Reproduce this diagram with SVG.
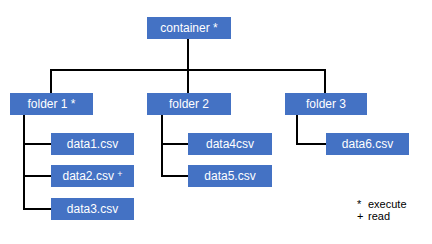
<svg xmlns="http://www.w3.org/2000/svg" width="432" height="244" viewBox="0 0 432 244">
<style>
.box{fill:#4472C4}
.lbl{font-family:"Liberation Sans",Arial,sans-serif;font-size:12px;fill:#ffffff;text-anchor:middle}
.sup{font-size:9px}
.conn{stroke:#000;stroke-width:2;fill:none;stroke-linecap:square}
.leg{font-family:"Liberation Sans",Arial,sans-serif;font-size:11px;fill:#000}
</style>
<rect width="432" height="244" fill="#fff"/>
<g id="connectors">
<path class="conn" d="M188,39V70M51,70H325M51,70V93M188,70V93M325,70V93"/>
<path class="conn" d="M24,115V209H51M24,144H51M24,176H51"/>
<path class="conn" d="M162,115V176H188M162,144H188"/>
<path class="conn" d="M297,115V144H326"/>
</g>
<g id="container"><rect class="box" x="147" y="17" width="84" height="22"/><text class="lbl" x="189" y="32">container *</text></g>
<g id="folder1"><rect class="box" x="10" y="93" width="83" height="22"/><text class="lbl" x="51.5" y="108">folder 1 *</text></g>
<g id="folder2"><rect class="box" x="147" y="93" width="84" height="22"/><text class="lbl" x="189" y="108">folder 2</text></g>
<g id="folder3"><rect class="box" x="285" y="93" width="82" height="22"/><text class="lbl" x="326" y="108">folder 3</text></g>
<g id="data1"><rect class="box" x="51" y="133" width="83" height="22"/><text class="lbl" x="92.5" y="148">data1.csv</text></g>
<g id="data2"><rect class="box" x="51" y="165" width="83" height="22"/><text class="lbl" x="92.5" y="180">data2.csv <tspan class="sup" dy="-3">+</tspan></text></g>
<g id="data3"><rect class="box" x="51" y="198" width="83" height="22"/><text class="lbl" x="92.5" y="213">data3.csv</text></g>
<g id="data4"><rect class="box" x="188" y="133" width="84" height="22"/><text class="lbl" x="230" y="148">data4csv</text></g>
<g id="data5"><rect class="box" x="188" y="165" width="84" height="22"/><text class="lbl" x="230" y="180">data5.csv</text></g>
<g id="data6"><rect class="box" x="326" y="133" width="83" height="22"/><text class="lbl" x="367.5" y="148">data6.csv</text></g>
<g id="legend">
<text class="leg" x="357" y="208">*</text><text class="leg" x="368" y="208">execute</text>
<text class="leg" x="357" y="220">+</text><text class="leg" x="368" y="220">read</text>
</g>
</svg>
